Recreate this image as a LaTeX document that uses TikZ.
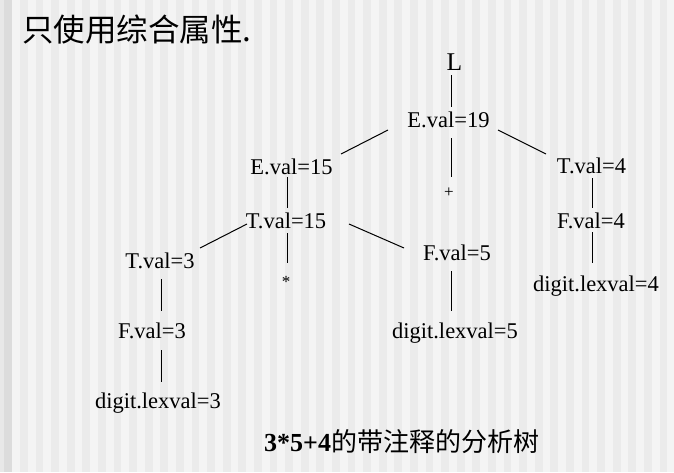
\documentclass[tikz,border=0pt]{standalone}
\usepackage{fontspec}
\setmainfont{Liberation Serif}
\newfontfamily\cjk{Noto Sans CJK SC}
\usetikzlibrary{calc}
\definecolor{bglight}{HTML}{F4F4F4}
\definecolor{bgdark}{HTML}{EBEBEB}
\definecolor{edgeA}{HTML}{E8E8E8}
\definecolor{edgeB}{HTML}{DCDCDC}
\tikzset{
  lbl/.style={anchor=base, inner sep=0pt, font=\fontsize{22.5}{27}\selectfont},
  op/.style={anchor=center, inner sep=0pt, font=\fontsize{17}{20}\selectfont},
  edge/.style={draw=black, line width=1pt},
}
\begin{document}
\begin{tikzpicture}[x=1pt,y=-1pt]
\useasboundingbox (0,0) rectangle (674,472);
% background
\fill[bglight] (0,0) rectangle (674,472);
\fill[edgeA] (0,0) rectangle (4,472);
\fill[edgeB] (4,0) rectangle (12,472);
\foreach \i in {0,...,42} {
  \fill[bgdark] ({20+15.6*\i},0) rectangle ++(7.8,472);
}
% title
\node[anchor=base west, inner sep=0pt, font=\cjk\fontsize{31.5}{36}\selectfont] (title) at (22,41) {只使用综合属性.};
% nodes
\node[lbl, font=\fontsize{25.5}{30}\selectfont] (L) at (454.5,70) {L};
\node[lbl] (E19) at (448.5,127) {E.val=19};
\node[op]  (plus) at (449,193) {+};
\node[lbl] (E15) at (291.5,174) {E.val=15};
\node[lbl] (T4)  at (591.5,173) {T.val=4};
\node[lbl] (T15) at (286,228) {T.val=15};
\node[lbl] (F4)  at (591,228) {F.val=4};
\node[lbl] (T3)  at (160,268) {T.val=3};
\node[op]  (star) at (286,282) {*};
\node[lbl] (F5)  at (457,260) {F.val=5};
\node[lbl] (F3)  at (152,338) {F.val=3};
\node[lbl] (D3)  at (158,408) {digit.lexval=3};
\node[lbl] (D5)  at (455,338) {digit.lexval=5};
\node[lbl] (D4)  at (596,291) {digit.lexval=4};
% caption
\node[anchor=base west, inner sep=0pt, font=\fontsize{26}{30}\selectfont] (cap) at (264,451) {\textbf{3*5+4}{\cjk 的带注释的分析树}};
% edges
\draw[edge] ($(L.base)+(-3.5,5)$) -- ($(E19.base)+(2.5,-20)$);
\draw[edge] ($(E19.base)+(-60.5,3)$) -- ($(E15.base)+(49.5,-20)$);
\draw[edge] ($(E19.base)+(2.5,11)$) -- ($(plus.center)+(2,-16)$);
\draw[edge] ($(E19.base)+(49.5,3)$) -- ($(T4.base)+(-45.5,-19)$);
\draw[edge] ($(E15.base)+(-4.5,3)$) -- ($(T15.base)+(1,-20)$);
\draw[edge] ($(T15.base)+(-39,-4)$) -- ($(T3.base)+(40,-20)$);
\draw[edge] ($(T15.base)+(1,5)$) -- ($(star.center)+(1,-19)$);
\draw[edge] ($(T15.base)+(63,-4)$) -- ($(F5.base)+(-53,-12)$);
\draw[edge] ($(T4.base)+(0.5,5)$) -- ($(F4.base)+(1,-20)$);
\draw[edge] ($(T3.base)+(1,11)$) -- ($(F3.base)+(9,-27)$);
\draw[edge] ($(F3.base)+(9,12)$) -- ($(D3.base)+(3,-26)$);
\draw[edge] ($(F5.base)+(-6,11)$) -- ($(D5.base)+(-4,-27)$);
\draw[edge] ($(F4.base)+(1,4)$) -- ($(D4.base)+(-4,-28)$);
\end{tikzpicture}
\end{document}
